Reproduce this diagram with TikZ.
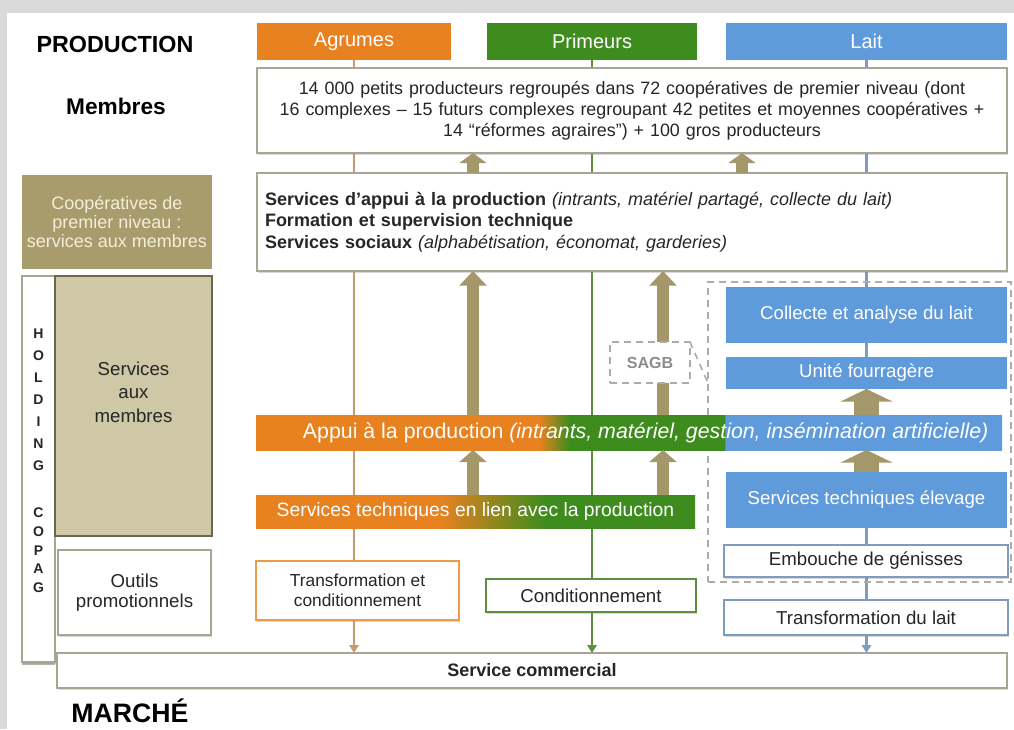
\documentclass[tikz,border=0pt]{standalone}
\usepackage{fontspec}
\setmainfont{Liberation Sans}
\usetikzlibrary{positioning,arrows.meta,shadows}

\definecolor{agrume}{HTML}{E8811F}
\definecolor{primeur}{HTML}{3F8C1E}
\definecolor{lait}{HTML}{5F9ADB}
\definecolor{kaki}{HTML}{A89B6C}
\definecolor{kakiclair}{HTML}{CEC8A6}
\definecolor{kakifonce}{HTML}{6B6650}
\definecolor{brun}{HTML}{A4976A}
\definecolor{bord}{HTML}{A8A597}
\definecolor{fond}{HTML}{DADADA}
\definecolor{ligneA}{HTML}{C49C70}
\definecolor{ligneP}{HTML}{5E8F3E}
\definecolor{ligneL}{HTML}{7E9CC0}
\definecolor{creme}{HTML}{F4EEDA}
\definecolor{texte}{HTML}{262626}

\pgfdeclarehorizontalshading{appuiombre}{100bp}{color(0bp)=(agrume); color(44bp)=(agrume); color(46bp)=(primeur); color(56.4bp)=(primeur); color(56.45bp)=(lait); color(100bp)=(lait)}
\pgfdeclarehorizontalshading{techombre}{100bp}{color(0bp)=(agrume); color(46bp)=(agrume); color(58bp)=(primeur); color(100bp)=(primeur)}

\newcommand\taille[2]{\fontsize{#1}{#2}\selectfont}

\tikzset{
  wh/.style 2 args={minimum width=#1*0.75pt, minimum height=#2*0.75pt},
  entete/.style={fill=#1, text=white, font=\taille{15}{17}, inner sep=0pt, outer sep=0pt},
  boite/.style={draw=bord, fill=white, line width=0.8pt, inner sep=0pt, outer sep=0pt, text=texte,
    drop shadow={shadow xshift=1pt, shadow yshift=-1.2pt, opacity=0.3}},
  boitecouleur/.style={boite, draw=#1, line width=1.4pt},
  bleue/.style={fill=lait, text=white, font=\taille{14}{16}, inner sep=0pt, outer sep=0pt},
  montee/.style={draw=brun, line width=8.5pt, -{Triangle[width=20pt,length=#1]}},
  montee/.default=10pt,
  montee large/.style={draw=brun, line width=19pt, -{Triangle[width=39pt,length=9.5pt]}},
  ligne/.style={draw=#1, line width=2pt, -{Triangle[width=7pt,length=6pt]}},
  tirets/.style={draw=gray!65, line width=1.2pt, dash pattern=on 5pt off 4pt, inner sep=0pt, outer sep=0pt},
  titre/.style={font=\taille{#1}{#1}\bfseries, text=black, inner sep=0pt},
  lettres/.style={align=center, font=\taille{10.5}{#1}\bfseries, text=texte, inner sep=0pt}
}

\begin{document}
\begin{tikzpicture}[x=0.75pt,y=-0.75pt]
% fond
\fill[fond] (0,0) rectangle (1014,729);
\fill[white] (7,13) rectangle (1014,729);

% titres
\node[titre=17.5] (production) at (115,44) {PRODUCTION};
\node[titre=17] (membreslbl) at (116,106) {Membres};
\node[titre=20] (marche) at (130,711) {MARCHÉ};

% filieres
\node[entete=agrume, wh={194}{37}] (hagrumes) at (354,41.5) {Agrumes};
\node[entete=primeur, wh={210}{37}] (hprimeurs) at (592,41.5) {Primeurs};
\node[entete=lait, wh={281}{37}] (hlait) at (866.5,41.5) {Lait};
\node[boite, wh={950}{35}, font=\taille{13.5}{15}\bfseries] (commercial) at (532,670.5) {Service commercial};

% lignes des filieres
\draw[ligne=ligneA] (hagrumes.south) -- (hagrumes.south |- commercial.north);
\draw[ligne=ligneP] (hprimeurs.south) -- (hprimeurs.south |- commercial.north);
\draw[ligne=ligneL] (hlait.south) -- (hlait.south |- commercial.north);

% membres et services
\node[boite, wh={750}{85}, text width=550.5pt, align=center, font=\taille{13.4}{15.75}] (membres) at (632,110.5)
  {14 000 petits producteurs regroupés dans 72 coopératives de premier niveau (dont\\
   16 complexes -- 15 futurs complexes regroupant 42 petites et moyennes coopératives +\\
   14 “réformes agraires”) + 100 gros producteurs};
\node[boite, wh={750}{98}, text width=550.5pt, inner xsep=6pt, align=left, font=\taille{13.5}{16}] (services) at (632,222)
  {\textbf{Services d'appui à la production} \textit{(intrants, matériel partagé, collecte du lait)}\\
   \textbf{Formation et supervision technique}\\
   \textbf{Services sociaux} \textit{(alphabétisation, économat, garderies)}};

% colonne gauche
\node[fill=kaki, wh={190}{94}, align=center, text=creme, font=\taille{13.5}{14.25}, inner sep=0pt] (coop) at (117,222)
  {Coopératives de\\premier niveau :\\services aux membres};
\node[boite, wh={33}{386}, drop shadow={shadow xshift=0pt, shadow yshift=-2pt, opacity=0.6}] (holding) at (38.5,469) {};
\node[lettres=16.5] (holdtxt) at (38.5,400) {H\\O\\L\\D\\I\\N\\G};
\node[lettres=14] (copagtxt) at (38.5,550.5) {C\\O\\P\\A\\G};
\node[fill=kakiclair, draw=kakifonce, line width=1.5pt, wh={157}{260}, inner sep=0pt] (servmembres) at (133.5,406) {};
\node[align=center, text=texte, font=\taille{14}{17.6}, inner sep=0pt] (servtxt) at (133.5,392) {Services\\aux\\membres};
\node[boite, wh={153}{85}, align=center, font=\taille{14}{15}] (outils) at (134.5,592.5) {Outils\\promotionnels};

% zone lait
\node[tirets, wh={303}{300}] (zonelait) at (859.5,432) {};
\node[bleue, wh={281}{56}] (collecte) at (866.5,315) {Collecte et analyse du lait};
\node[bleue, wh={281}{32}, below=10.5pt of collecte] (fourrage) {Unité fourragère};
\node[bleue, wh={281}{56}] (elevage) at (866.5,500) {Services techniques élevage};
\node[boitecouleur=ligneL, wh={284}{32}, font=\taille{14}{16}] (embouche) at (866,561) {Embouche de génisses};
\node[boitecouleur=ligneL, wh={284}{35}, font=\taille{14}{16}] (translait) at (866,617.5) {Transformation du lait};

% bandes transversales
\node[shade, shading=appuiombre, wh={746}{35}, text=white, font=\taille{16}{18}, inner sep=0pt, outer sep=0pt] (appui) at (629,432.5)
  {\hspace*{25pt}Appui à la production \textit{(intrants, matériel, gestion, insémination artificielle)}};
\node[shade, shading=techombre, wh={439}{33}, text=white, font=\taille{14.5}{16}, inner sep=0pt, outer sep=0pt] (techprod) at (475.5,511.5)
  {Services techniques en lien avec la production};
\node[boitecouleur=agrume!80, wh={203}{59}, align=center, font=\taille{13}{15}] (transfo) at (357.5,590.5) {Transformation et\\conditionnement};
\node[boitecouleur=ligneP, wh={210}{33}, font=\taille{14}{16}] (condit) at (591,595.5) {Conditionnement};

% fleches
\coordinate (colA) at (473,0);
\coordinate (colB) at (663,0);
\coordinate (colC) at (742,0);
\draw[montee=7.5pt] (services.north -| colA) -- (membres.south -| colA);
\draw[montee=7.5pt] (services.north -| colC) -- (membres.south -| colC);
\draw[montee=11pt] (appui.north -| colA) -- (services.south -| colA);
\draw[montee=11pt] (appui.north -| colB) -- (services.south -| colB);
\draw[montee=9pt] (techprod.north -| colA) -- (appui.south -| colA);
\draw[montee=9pt] (techprod.north -| colB) -- (appui.south -| colB);
\draw[montee large] (appui.north -| hlait.south) -- (fourrage.south -| hlait.south);
\draw[montee large] (elevage.north -| hlait.south) -- (appui.south -| hlait.south);

% SAGB
\node[tirets, fill=white, wh={80}{41}, text=gray!90, font=\taille{12}{14}\bfseries] (sagb) at (650,362.5) {SAGB};
\draw[tirets] (sagb.north east) -- (sagb.south east -| zonelait.west);
\end{tikzpicture}
\end{document}
